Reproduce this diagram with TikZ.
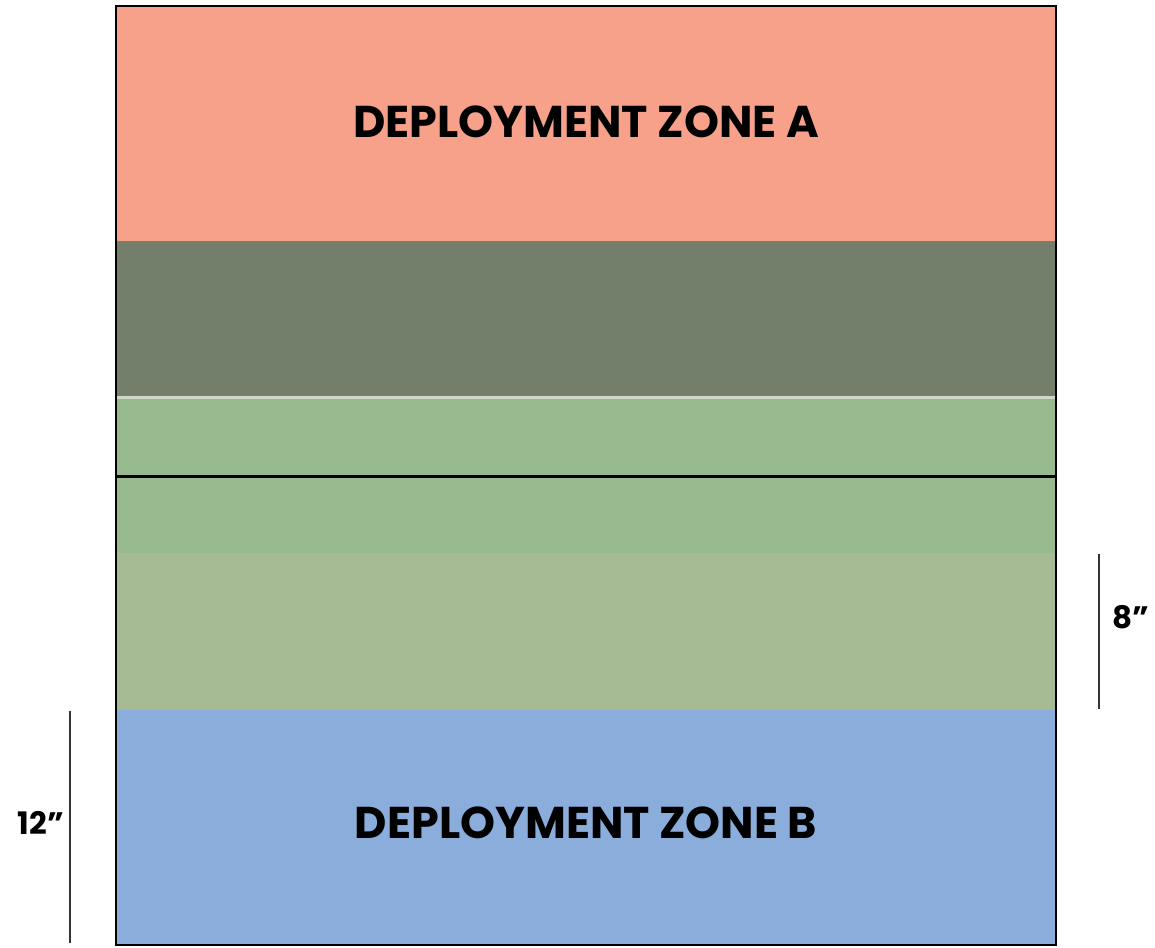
\documentclass[tikz,border=0pt]{standalone}
\usepackage{fontspec}
\setmainfont{Poppins}
\definecolor{zoneA}{HTML}{F7A08A}
\definecolor{olive}{HTML}{737F6A}
\definecolor{greenA}{HTML}{97BA8F}
\definecolor{greenB}{HTML}{A6BA93}
\definecolor{zoneB}{HTML}{8BADDB}
\definecolor{paleline}{HTML}{CFD8C8}
\begin{document}
\begin{tikzpicture}[x=1pt,y=-1pt,
  zonelabel/.style={font=\fontsize{44.5}{44.5}\selectfont\bfseries, text=black, inner sep=0pt},
  dimlabel/.style={font=\fontsize{31}{31}\selectfont\bfseries, text=black, inner sep=0pt},
  dimline/.style={draw=black!80, line width=2.5pt}]
\useasboundingbox (0,0) rectangle (1155,947);
\fill[zoneA] (116,6) rectangle (1056,241);
\fill[olive] (116,241) rectangle (1056,397);
\fill[greenA] (116,397) rectangle (1056,553);
\fill[greenB] (116,553) rectangle (1056,710);
\fill[zoneB] (116,710) rectangle (1056,945);
\draw[paleline, line width=2.5pt] (116,397.5) -- (1056,397.5);
\draw[black, line width=3pt] (116,476) -- (1056,476);
\draw[black, line width=2.5pt] (116,6) rectangle (1056,945);
\node[zonelabel] (za) at (586,122) {DEPLOYMENT ZONE A};
\node[zonelabel] (zb) at (586,823) {DEPLOYMENT ZONE B};
\coordinate (e1) at (1099,554);
\coordinate (e2) at (1099,709);
\draw[dimline] (e1) -- (e2);
\node[dimlabel, anchor=west] (d8) at (1112,617) {8"};
\coordinate (t1) at (70,711);
\coordinate (t2) at (70,943);
\draw[dimline] (t1) -- (t2);
\node[dimlabel, anchor=east] (d12) at (64,823) {12"};
\end{tikzpicture}
\end{document}
